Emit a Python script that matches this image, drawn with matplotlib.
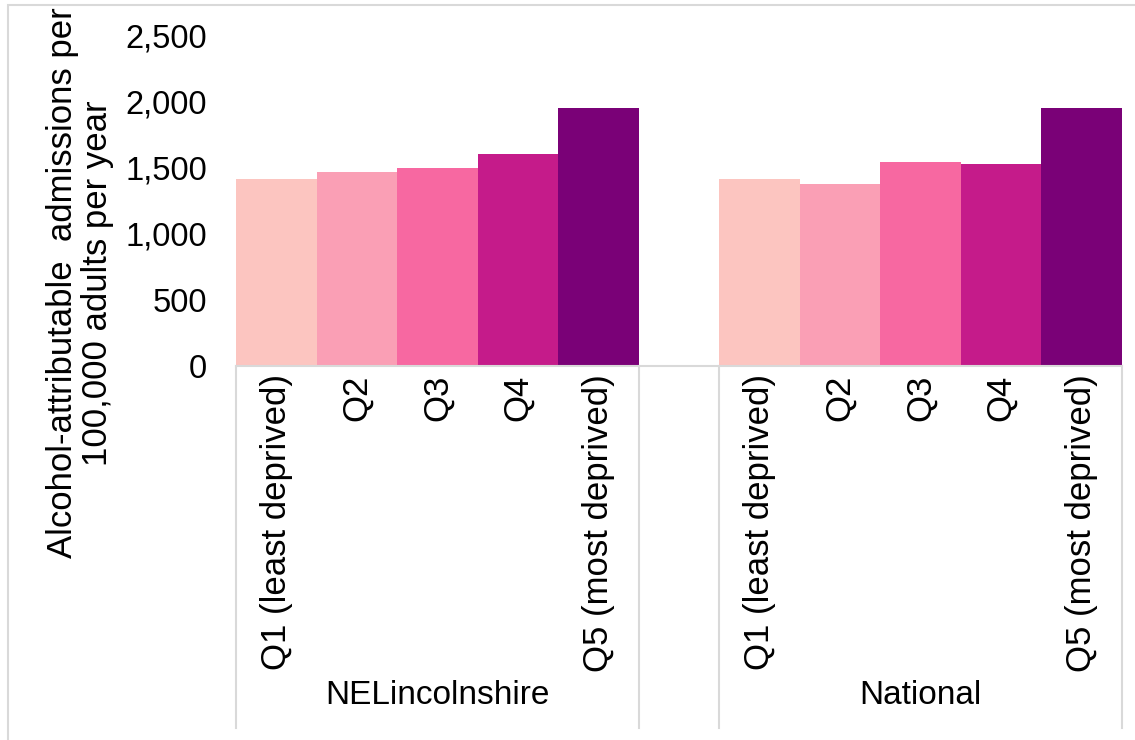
import matplotlib.pyplot as plt
import matplotlib.patches as patches
import matplotlib.transforms as mtransforms
from matplotlib.ticker import FuncFormatter

plt.rcParams["font.family"] = ["Liberation Sans", "DejaVu Sans"]

groups = ["NELincolnshire", "National"]
quintiles = ["Q1 (least deprived)", "Q2", "Q3", "Q4", "Q5 (most deprived)"]
nel_values = [1412, 1462, 1495, 1601, 1949]
national_values = [1412, 1375, 1541, 1528, 1949]
colors = ["#fcc5c0", "#fa9fb5", "#f768a1", "#c51b8a", "#7a0177"]
yticks = [0, 500, 1000, 1500, 2000, 2500]

fig = plt.figure(figsize = (11.35, 7.4), dpi = 100)
ax = fig.add_axes([236 / 1135, 1 - 366 / 740, (1121.5 - 236) / 1135, 331 / 740])

gap = 1
xs = []
for g, vals in enumerate([nel_values, national_values]):
	start = g * (len(quintiles) + gap)
	for i, v in enumerate(vals):
		ax.bar(start + i, v, width = 1, align = "edge", color = colors[i], edgecolor = "none")
		xs.append(start + i + 0.5)

ntot = 2 * len(quintiles) + gap
ax.set_xlim(0, ntot)
ax.set_ylim(0, 2500)
ax.set_yticks(yticks)
ax.yaxis.set_major_formatter(FuncFormatter(lambda v, p: "{:,.0f}".format(v)))
ax.tick_params(axis = "y", length = 0, pad = 21, labelsize = 23.5)

ax.set_xticks(xs)
ax.set_xticklabels(quintiles * 2, rotation = 90, va = "top", ha = "center")
ax.tick_params(axis = "x", length = 0, pad = 6, labelsize = 25)

for s in ["left", "right", "top"]:
	ax.spines[s].set_visible(False)
ax.spines["bottom"].set_color("#d9d9d9")
ax.spines["bottom"].set_linewidth(1.5)

# multi-level category separators
tr = mtransforms.blended_transform_factory(ax.transData, ax.transAxes)
depth = (728 - 366) / 331
for x in [0, len(quintiles), len(quintiles) + gap, ntot]:
	ax.plot([x, x], [0, -depth], color = "#d9d9d9", lw = 1.5, transform = tr, clip_on = False)

for g, name in enumerate(groups):
	cx = g * (len(quintiles) + gap) + len(quintiles) / 2
	ax.text(cx, -(695 - 366) / 331, name, ha = "center", va = "center", fontsize = 24, transform = tr)

fig.text(80 / 1135, 1 - 283 / 740, "Alcohol-attributable  admissions per\n100,000 adults per year",
	rotation = 90, ha = "center", va = "center", multialignment = "center", fontsize = 25, linespacing = 1.05)

# chart border
fig.patches.append(patches.Rectangle((8 / 1135, -0.1), 1.2, 1.1 - 5 / 740, transform = fig.transFigure,
	fill = False, edgecolor = "#d9d9d9", lw = 1.5))

fig.savefig("out.png", dpi = 100)
